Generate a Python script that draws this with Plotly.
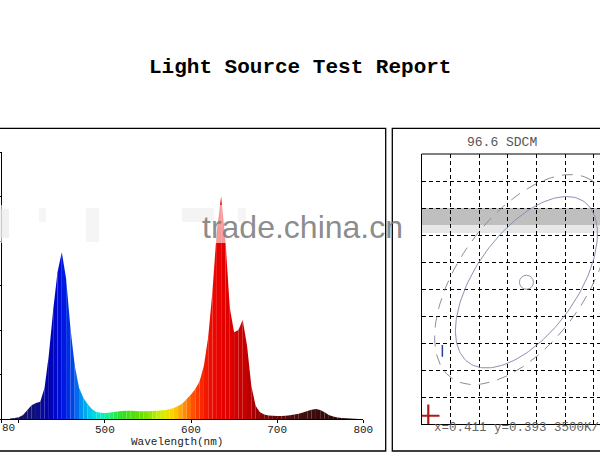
import math
import plotly.graph_objects as go

# ---------------- data ----------------
wavelength_nm = [380, 385, 390, 395, 400, 405, 410, 415, 420, 425, 430, 435, 440, 445, 450,
                 455, 460, 465, 470, 475, 480, 485, 490, 495, 500, 505, 510, 515, 520, 525,
                 530, 535, 540, 545, 550, 555, 560, 565, 570, 575, 580, 585, 590, 595, 600,
                 605, 610, 615, 620, 625, 630, 635, 640, 645, 650, 655, 660, 665, 670, 675,
                 680, 685, 690, 695, 700, 705, 710, 715, 720, 725, 730, 735, 740, 745, 750,
                 755, 760, 765, 770, 775, 780, 785, 790, 795, 800]
relative_intensity = [0.0, 0.0, 0.002, 0.004, 0.008, 0.018, 0.040, 0.062, 0.072, 0.078, 0.14, 0.29, 0.49, 0.66, 0.75,
                      0.63, 0.41, 0.24, 0.14, 0.095, 0.066, 0.045, 0.032, 0.028, 0.027, 0.028, 0.031, 0.034, 0.036, 0.037,
                      0.037, 0.036, 0.035, 0.035, 0.035, 0.036, 0.037, 0.038, 0.040, 0.044, 0.050, 0.058, 0.070, 0.090, 0.110,
                      0.135, 0.17, 0.24, 0.37, 0.58, 0.85, 1.0, 0.80, 0.50, 0.39, 0.40, 0.445, 0.33, 0.15, 0.06,
                      0.030, 0.020, 0.016, 0.015, 0.014, 0.014, 0.015, 0.017, 0.020, 0.024, 0.029, 0.036, 0.042, 0.045, 0.040,
                      0.030, 0.018, 0.011, 0.007, 0.004, 0.003, 0.002, 0.001, 0.0, 0.0]

x_tick_values = [380, 400, 500, 600, 700, 800]
x_tick_labels = ["380", "", "500", "600", "700", "800"]
y_tick_values = [0, 0.2, 0.4, 0.6, 0.8, 1.0, 1.2]

# chromaticity panel
cie_x = 0.411
cie_y = 0.393
cct_label = "3500K/"
sdcm_value = 96.6
target_center = (0.4073, 0.3905)          # small circle / ellipse centre
ellipse_solid = dict(a=0.0072, b=0.0036, angle_deg=57)
ellipse_dashed = dict(a=0.0088, b=0.0045, angle_deg=57, dx=-0.0003, dy=0.0002)
source_marker = (0.40046, 0.38061)        # red cross
blue_mark_x = 0.40144
blue_mark_y = [0.38499, 0.38585]

watermark_text = "trade.china.cn"

# ---------------- style helpers ----------------
W, H = 600, 476
MONO = "Liberation Mono, Courier New, monospace"

def px(xp):
    return xp / W

def py(yp):
    return 1 - yp / H

color_stops = [
    (380, (26, 26, 58)), (400, (20, 20, 90)), (420, (16, 16, 128)), (435, (0, 0, 176)),
    (450, (0, 16, 224)), (462, (0, 64, 232)), (472, (0, 144, 240)), (485, (0, 208, 232)),
    (495, (0, 240, 208)), (505, (32, 240, 128)), (520, (48, 224, 32)), (545, (112, 224, 0)),
    (565, (208, 240, 0)), (580, (255, 208, 0)), (592, (255, 144, 0)), (605, (255, 64, 0)),
    (620, (240, 16, 0)), (635, (232, 0, 0)), (650, (216, 0, 0)), (665, (192, 0, 0)),
    (680, (144, 0, 0)), (700, (96, 8, 8)), (730, (64, 16, 16)), (750, (58, 10, 10)),
    (780, (32, 8, 8)), (800, (16, 16, 16)),
]

def spectrum_color(w):
    for (w0, c0), (w1, c1) in zip(color_stops[:-1], color_stops[1:]):
        if w0 <= w <= w1:
            t = (w - w0) / (w1 - w0)
            c = [round(c0[k] + (c1[k] - c0[k]) * t) for k in range(3)]
            return f"rgb({c[0]},{c[1]},{c[2]})"
    return "rgb(16,16,16)"

fig = go.Figure()

# ---------------- spectrum (left panel) ----------------
for i in range(len(wavelength_nm) - 1):
    w0, w1 = wavelength_nm[i], wavelength_nm[i + 1]
    v0, v1 = relative_intensity[i], relative_intensity[i + 1]
    fig.add_trace(go.Scatter(
        x=[w0, w0, w1, w1, w0], y=[0, v0, v1, 0, 0],
        fill="toself", fillcolor=spectrum_color((w0 + w1) / 2),
        mode="lines", line=dict(width=0), hoverinfo="skip", showlegend=False,
        xaxis="x", yaxis="y"))

# ---------------- chromaticity (right panel) ----------------
def ellipse_points(cx, cy, a, b, angle_deg, n=180):
    th = math.radians(angle_deg)
    xs, ys = [], []
    for k in range(n + 1):
        t = 2 * math.pi * k / n
        u, v = a * math.cos(t), b * math.sin(t)
        xs.append(cx + u * math.cos(th) - v * math.sin(th))
        ys.append(cy + u * math.sin(th) + v * math.cos(th))
    return xs, ys

ex, ey = ellipse_points(target_center[0] + ellipse_dashed["dx"], target_center[1] + ellipse_dashed["dy"],
                        ellipse_dashed["a"], ellipse_dashed["b"], ellipse_dashed["angle_deg"])
fig.add_trace(go.Scatter(x=ex, y=ey, mode="lines", line=dict(color="#8c8c98", width=1, dash="11px,8px"),
                         hoverinfo="skip", showlegend=False, xaxis="x2", yaxis="y2"))
ex, ey = ellipse_points(target_center[0], target_center[1],
                        ellipse_solid["a"], ellipse_solid["b"], ellipse_solid["angle_deg"])
fig.add_trace(go.Scatter(x=ex, y=ey, mode="lines", line=dict(color="#8a90b0", width=1),
                         hoverinfo="skip", showlegend=False, xaxis="x2", yaxis="y2"))
fig.add_trace(go.Scatter(x=[target_center[0]], y=[target_center[1]], mode="markers",
                         marker=dict(symbol="circle-open", size=14, color="#8a96a8", line=dict(width=1)),
                         hoverinfo="skip", showlegend=False, xaxis="x2", yaxis="y2"))
fig.add_trace(go.Scatter(x=[blue_mark_x, blue_mark_x], y=blue_mark_y, mode="lines",
                         line=dict(color="#2a3f9a", width=1.5),
                         hoverinfo="skip", showlegend=False, xaxis="x2", yaxis="y2"))
fig.add_trace(go.Scatter(x=[source_marker[0]], y=[source_marker[1]], mode="markers",
                         marker=dict(symbol="cross-thin", size=16, color="#b01818",
                                     line=dict(width=2.2, color="#b01818")),
                         hoverinfo="skip", showlegend=False, xaxis="x2", yaxis="y2"))

# ---------------- axes ----------------
cell_px_x = 28.7
x2_left_px = 421.7
x2_span = (W - x2_left_px) / cell_px_x * 0.002

fig.update_layout(
    width=W, height=H, autosize=False, margin=dict(l=0, r=0, t=0, b=0),
    paper_bgcolor="white", plot_bgcolor="rgba(0,0,0,0)",
    xaxis=dict(domain=[px(1.5), px(363.3)], range=[380, 800], tickmode="array",
               tickvals=x_tick_values, ticktext=x_tick_labels, ticks="outside", ticklen=3,
               tickcolor="black", showline=True, linecolor="black", linewidth=1, showgrid=False,
               zeroline=False, tickfont=dict(family=MONO, size=11, color="#222"),
               ticklabelstandoff=-3, automargin=False, anchor="y"),
    yaxis=dict(domain=[py(419), py(152)], range=[0, 1.2], tickmode="array", tickvals=y_tick_values,
               ticks="outside", ticklen=4, tickcolor="black", showticklabels=False, automargin=False,
               showline=True, linecolor="black", linewidth=1, showgrid=False, zeroline=False, anchor="x"),
    xaxis2=dict(domain=[px(x2_left_px), 1.0], range=[0.400, 0.400 + x2_span], tick0=0.400, dtick=0.002,
                showticklabels=False, ticks="", showgrid=True, gridcolor="black", gridwidth=1,
                griddash="4px,3px", showline=True, linecolor="black", linewidth=1.2, zeroline=False,
                automargin=False, anchor="y2"),
    yaxis2=dict(domain=[py(424), py(154)], range=[0.380, 0.400], tick0=0.380, dtick=0.002,
                showticklabels=False, ticks="", showgrid=True, gridcolor="black", gridwidth=1,
                griddash="4px,3px", showline=True, linecolor="black", linewidth=1.2, zeroline=False,
                automargin=False, anchor="x2"),
)

def prect(x0, x1, y0, y1, fill, layer="above"):
    return dict(type="rect", xref="paper", yref="paper", x0=px(x0), x1=px(x1), y0=py(y1), y1=py(y0),
                line=dict(width=0), fillcolor=fill, layer=layer)

# frames
shapes = [
    dict(type="rect", xref="paper", yref="paper", x0=px(-3), x1=px(385.7), y0=py(451), y1=py(128.3),
         line=dict(color="black", width=1.3), layer="below"),
    dict(type="rect", xref="paper", yref="paper", x0=px(392.3), x1=px(605), y0=py(451), y1=py(128.3),
         line=dict(color="black", width=1.3), layer="below"),
    dict(type="line", xref="paper", yref="paper", x0=px(x2_left_px), x1=1.0, y0=py(154), y1=py(154),
         line=dict(color="black", width=1.2)),
    # watermark haze (left panel)
    prect(-2, 384, 205, 243, "rgba(255,255,255,0.6)"),
    prect(0, 9, 209, 238, "rgba(232,232,232,0.6)"),
    prect(39, 46, 208, 222, "rgba(238,238,238,0.6)"),
    prect(86, 99, 208, 242, "rgba(238,238,238,0.6)"),
    prect(182, 214, 208, 222, "rgba(236,236,236,0.6)"),
    prect(238, 246, 208, 222, "rgba(238,238,238,0.6)"),
    # watermark band (right panel), grid stays visible on top
    prect(421, 600, 208, 225, "rgba(170,170,170,0.75)", layer="below"),
    prect(421, 600, 225, 233, "rgba(215,215,215,0.6)", layer="below"),
]
fig.update_layout(shapes=shapes)

annotations = [
    dict(text="<b>Light Source Test Report</b>", x=0.5, y=py(68), xref="paper", yref="paper",
         showarrow=False, font=dict(family=MONO, size=21, color="black"), xanchor="center", yanchor="middle"),
    dict(text="80", x=px(0), y=py(428), xref="paper", yref="paper", showarrow=False,
         font=dict(family=MONO, size=11, color="#222"), xanchor="left", yanchor="middle"),
    dict(text="Wavelength(nm)", x=px(177), y=py(441.5), xref="paper", yref="paper", showarrow=False,
         font=dict(family=MONO, size=11, color="#222"), xanchor="center", yanchor="middle"),
    dict(text=f"{sdcm_value} SDCM", x=px(502), y=py(142), xref="paper", yref="paper", showarrow=False,
         font=dict(family=MONO, size=13, color="#555"), xanchor="center", yanchor="middle"),
    dict(text=f"x={cie_x} y={cie_y} {cct_label}", x=px(432), y=py(428), xref="paper", yref="paper",
         showarrow=False, font=dict(family=MONO, size=12.5, color="#666"), xanchor="left", yanchor="middle"),
    dict(text=watermark_text, x=px(200), y=py(227), xref="paper", yref="paper", showarrow=False,
         font=dict(family="Liberation Sans, Arial, sans-serif", size=32, color="rgba(125,125,125,0.9)"),
         xanchor="left", yanchor="middle"),
]
fig.update_layout(annotations=annotations)

fig.write_html(
    "out.html",
    config={"displayModeBar": False, "responsive": False, "staticPlot": True},
    default_width="600px", default_height="476px",
    post_script=("document.documentElement.style.overflow='hidden';"
                 "document.documentElement.style.margin='0';"
                 "document.body.style.margin='0';document.body.style.padding='0';"
                 "document.body.style.overflow='hidden';"),
)
